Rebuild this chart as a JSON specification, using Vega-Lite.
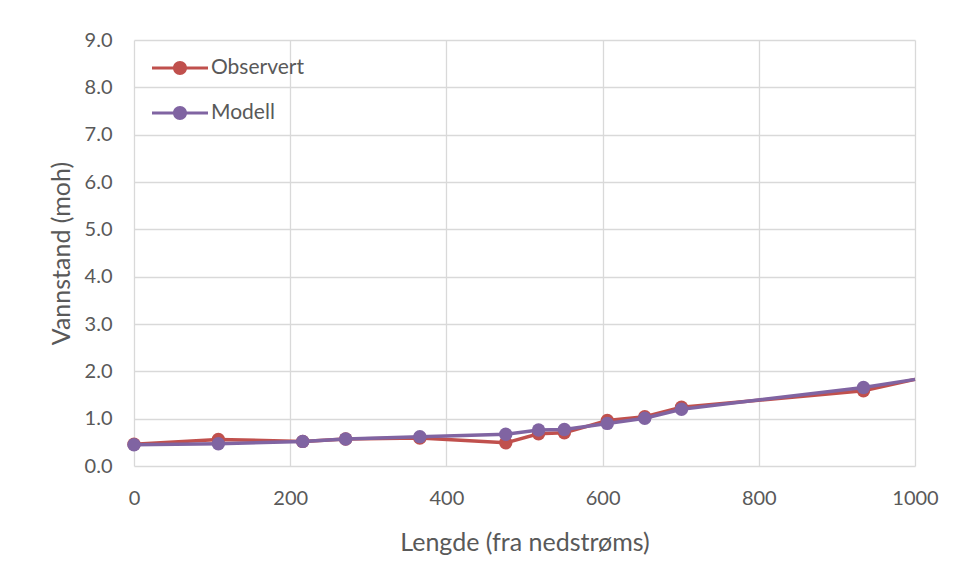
{
  "$schema": "https://vega.github.io/schema/vega-lite/v6.json",
  "width": 781,
  "height": 426,
  "autosize": {"type": "none"},
  "padding": {"left": 134, "top": 40, "right": 42, "bottom": 115},
  "background": "white",
  "config": {
    "view": {"stroke": null},
    "font": "Lato",
    "axis": {
      "labelFont": "Lato",
      "titleFont": "Lato",
      "labelColor": "#595959",
      "titleColor": "#595959",
      "labelFontSize": 20,
      "titleFontSize": 25,
      "titleFontWeight": "normal",
      "gridColor": "#d9d9d9",
      "gridWidth": 1.3,
      "domain": false,
      "ticks": false,
      "labelFlush": false
    }
  },
  "data": {
    "values": [
      {"x": 0, "series": "Observert", "y": 0.46},
      {"x": 108, "series": "Observert", "y": 0.56},
      {"x": 216, "series": "Observert", "y": 0.52},
      {"x": 271, "series": "Observert", "y": 0.57},
      {"x": 366, "series": "Observert", "y": 0.59},
      {"x": 476, "series": "Observert", "y": 0.49},
      {"x": 518, "series": "Observert", "y": 0.68},
      {"x": 551, "series": "Observert", "y": 0.70},
      {"x": 606, "series": "Observert", "y": 0.96},
      {"x": 654, "series": "Observert", "y": 1.04},
      {"x": 701, "series": "Observert", "y": 1.24},
      {"x": 934, "series": "Observert", "y": 1.59},
      {"x": 1000, "series": "Observert", "y": 1.83},
      {"x": 0, "series": "Modell", "y": 0.45},
      {"x": 108, "series": "Modell", "y": 0.47},
      {"x": 216, "series": "Modell", "y": 0.52},
      {"x": 271, "series": "Modell", "y": 0.57},
      {"x": 366, "series": "Modell", "y": 0.62},
      {"x": 476, "series": "Modell", "y": 0.67},
      {"x": 518, "series": "Modell", "y": 0.76},
      {"x": 551, "series": "Modell", "y": 0.77},
      {"x": 606, "series": "Modell", "y": 0.90},
      {"x": 654, "series": "Modell", "y": 1.01},
      {"x": 701, "series": "Modell", "y": 1.20},
      {"x": 934, "series": "Modell", "y": 1.66},
      {"x": 1000, "series": "Modell", "y": 1.83}
    ]
  },
  "encoding": {
    "x": {
      "field": "x", "type": "quantitative",
      "scale": {"domain": [0, 1000], "nice": false},
      "axis": {"values": [0, 200, 400, 600, 800, 1000], "format": "d", "title": "Lengde (fra nedstrøms)", "labelPadding": 22, "titlePadding": 22}
    },
    "y": {
      "field": "y", "type": "quantitative",
      "scale": {"domain": [0, 9], "nice": false},
      "axis": {"values": [0, 1, 2, 3, 4, 5, 6, 7, 8, 9], "format": ".1f", "title": "Vannstand (moh)", "labelPadding": 22, "titlePadding": 10}
    },
    "color": {
      "field": "series", "type": "nominal",
      "scale": {"domain": ["Observert", "Modell"], "range": ["#C0504D", "#8064A2"]},
      "legend": null
    }
  },
  "layer": [
    {
      "transform": [{"filter": "datum.series == 'Observert'"}],
      "mark": {"type": "line", "strokeWidth": 3.5},
      "encoding": {
        "color": {
          "field": "series", "type": "nominal",
          "scale": {"domain": ["Observert", "Modell"], "range": ["#C0504D", "#8064A2"]},
          "legend": {
            "title": null,
            "orient": "none",
            "legendX": 18,
            "legendY": 0,
            "padding": 0,
            "symbolType": "M-1,-0.055H1V0.055H-1Z M0.25,0A0.25,0.25 0 1,1 -0.25,0A0.25,0.25 0 1,1 0.25,0Z",
            "symbolSize": 3136,
            "symbolStrokeWidth": 0,
            "rowPadding": 7,
            "labelOffset": 3,
            "labelFont": "Lato",
            "labelFontSize": 21,
            "labelColor": "#595959",
            "encode": {
              "symbols": {"update": {"fill": {"scale": "color", "field": "value"}, "fillOpacity": {"value": 1}, "strokeWidth": {"value": 0}}}
            }
          }
        }
      }
    },
    {
      "transform": [{"filter": "datum.series == 'Observert' && datum.x < 1000"}],
      "mark": {"type": "point", "filled": true, "size": 180, "opacity": 1}
    },
    {
      "transform": [{"filter": "datum.series == 'Modell'"}],
      "mark": {"type": "line", "strokeWidth": 3.5}
    },
    {
      "transform": [{"filter": "datum.series == 'Modell' && datum.x < 1000"}],
      "mark": {"type": "point", "filled": true, "size": 180, "opacity": 1}
    }
  ]
}
